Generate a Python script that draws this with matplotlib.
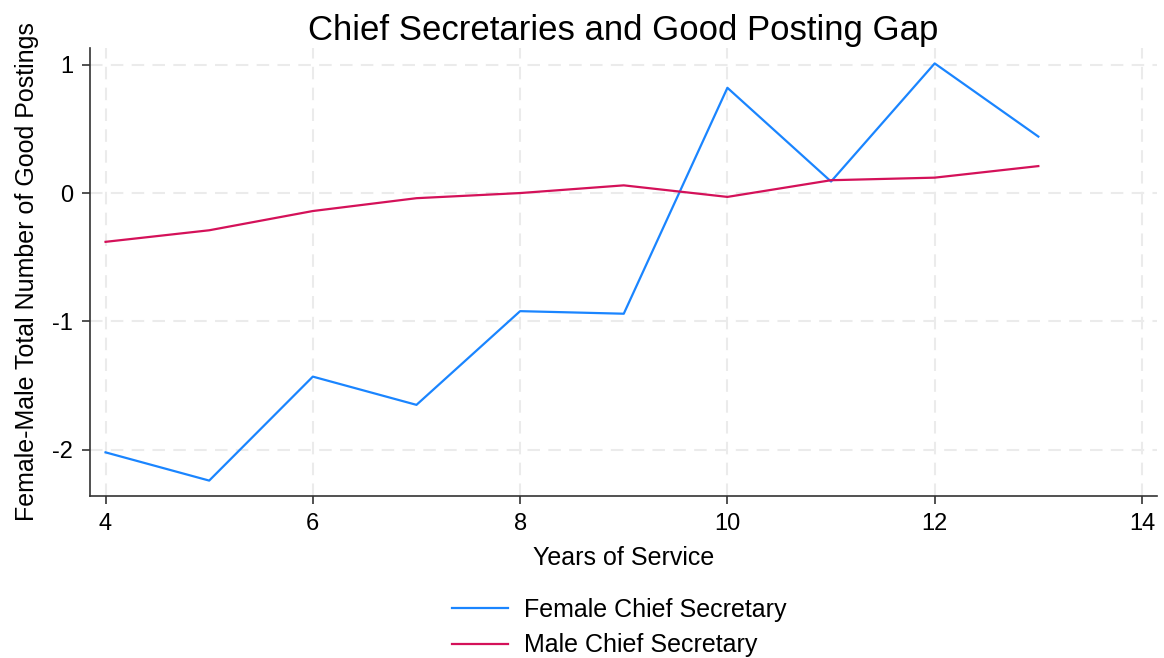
import matplotlib
matplotlib.use("Agg")
import matplotlib.pyplot as plt

plt.rcParams['font.family'] = ['Liberation Sans', 'DejaVu Sans']
plt.rcParams['axes.unicode_minus'] = False

years = [4, 5, 6, 7, 8, 9, 10, 11, 12, 13]
female_cs = [-2.02, -2.24, -1.43, -1.65, -0.92, -0.94, 0.82, 0.09, 1.01, 0.44]
male_cs = [-0.38, -0.29, -0.14, -0.04, 0.00, 0.06, -0.03, 0.10, 0.12, 0.21]
xticks = [4, 6, 8, 10, 12, 14]
yticks = [-2, -1, 0, 1]

fig = plt.figure(figsize=(11.64, 6.58), dpi=100)
ax = fig.add_axes([90/1164, 1 - 496/658, (1157-90)/1164, (496-48)/658])

ax.plot(years, female_cs, color='#1a85ff', lw=1.6, label='Female Chief Secretary')
ax.plot(years, male_cs, color='#d41159', lw=1.6, label='Male Chief Secretary')

ax.set_xlim(3.85, 14.145)
ax.set_ylim(-2.36, 1.13)
ax.set_xticks(xticks)
ax.set_yticks(yticks)
ax.tick_params(labelsize=17, length=6, width=1.2, color='#333333', pad=6)
ax.grid(True, color='#ebebeb', ls=(0, (6, 4)), lw=1.5)
ax.set_axisbelow(True)
for s in ['top', 'right']:
    ax.spines[s].set_visible(False)
for s in ['left', 'bottom']:
    ax.spines[s].set_color('#333333')
    ax.spines[s].set_linewidth(1.2)

ax.set_title('Chief Secretaries and Good Posting Gap', fontsize=25, pad=6)
ax.set_xlabel('Years of Service', fontsize=18, labelpad=8)
ax.set_ylabel('Female-Male Total Number of Good Postings', fontsize=18, labelpad=10)

fig.legend(loc='center', bbox_to_anchor=(0.532, 0.046), frameon=False,
           fontsize=18, handlelength=2.25, handletextpad=0.65, labelspacing=0.45,
           ncol=1)

fig.savefig('out.png', dpi=100)
